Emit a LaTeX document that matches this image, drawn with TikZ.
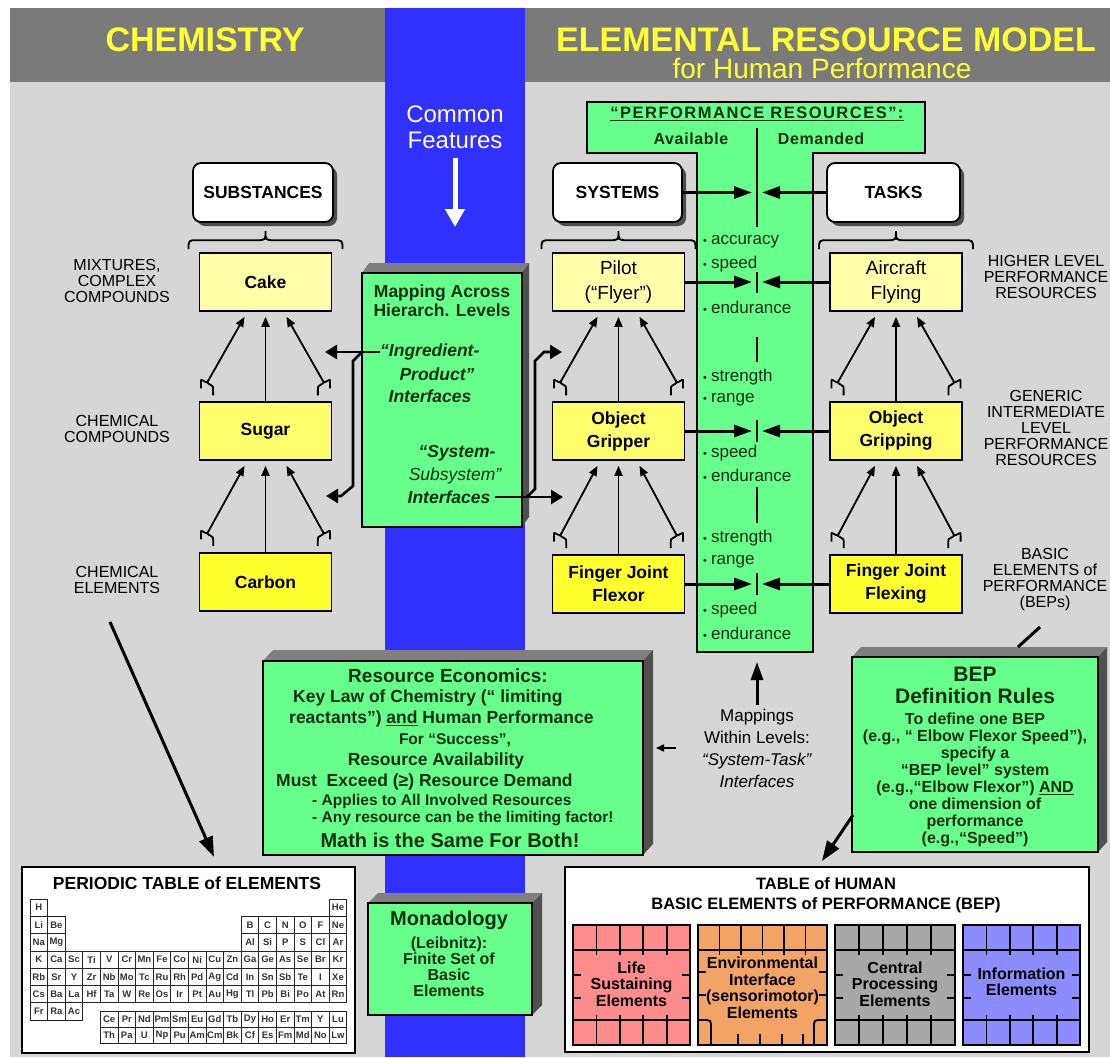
\documentclass[tikz,border=0pt]{standalone}
\usepackage{fontspec}
\setmainfont{Liberation Sans}
\newfontfamily\spacedfont[LetterSpace=9]{Liberation Sans}
\newfontfamily\midspaced[LetterSpace=4]{Liberation Sans}
\usetikzlibrary{arrows.meta,calc}

\definecolor{headgray}{HTML}{7A7A7A}
\definecolor{bodygray}{HTML}{D6D6D6}
\definecolor{colblue}{HTML}{3030FF}
\definecolor{hdyellow}{HTML}{FFFF33}
\definecolor{boxgreen}{HTML}{66FF8C}
\definecolor{txtgreen}{HTML}{103010}
\definecolor{lightyel}{HTML}{FFFFAA}
\definecolor{midyel}{HTML}{FFFF6E}
\definecolor{fullyel}{HTML}{FFFF2E}
\definecolor{topgray}{HTML}{7F7F7F}
\definecolor{sidegray}{HTML}{505050}
\definecolor{tilepink}{HTML}{FF8C8C}
\definecolor{tileorange}{HTML}{F2A466}
\definecolor{tilegray}{HTML}{A8A8A8}
\definecolor{tileblue}{HTML}{8C8CFF}

\newcommand\fsz[2]{\fontsize{#1}{#2}\selectfont}
\newcommand\bulletmark{{\fsz{11}{11}\textbullet}\hspace{4pt}}

\tikzset{
  hdboxst/.style={draw=black, line width=1.8pt, fill=white, rounded corners=8pt, inner sep=0pt, font=\bfseries\fsz{17.5}{20}},
  lvbox/.style={draw=black, line width=1.6pt, minimum width=132pt, minimum height=58pt, align=center, inner sep=1pt},
  lvbold/.style={font=\bfseries\fsz{17.5}{23}},
  lvplain/.style={font=\fsz{19}{25}},
  sidelbl/.style={align=center, font=\fsz{16}{16}},
  resitem/.style={anchor=west, inner sep=0pt, text=txtgreen, font=\fsz{17}{19}},
  gtext/.style={text=txtgreen, align=center, inner sep=0pt},
  thinarr/.style={line width=1.8pt, -{Triangle[length=10pt,width=8pt]}},
  bigarr/.style={line width=3pt, -{Triangle[length=18pt,width=12pt]}},
  medarr/.style={line width=2.6pt, -{Triangle[length=12pt,width=14pt]}},
  smallarr/.style={line width=1.6pt, -{Triangle[length=8pt,width=7pt]}},
  longarr/.style={line width=3pt, -{Triangle[length=20pt,width=14pt]}},
  divider/.style={line width=2pt},
  forkline/.style={line width=1.8pt},
  pcell/.style={draw=black!85, line width=0.8pt, fill=white, minimum width=17.6pt, minimum height=17.3pt, inner sep=0pt, font=\bfseries\fsz{9.5}{10}, text=black!80},
  lcell/.style={pcell, minimum height=15.7pt},
  tiletext/.style={align=center, font=\bfseries\fsz{16}{16.5}, inner sep=0pt},
  tileline/.style={line width=1.8pt},
}

% white rounded heading box with a dark drop shadow
\newcommand\hdbox[6]{%
  \fill[black!70, rounded corners=8pt] (#2+4,#3+4) rectangle (#4+4,#5+4);
  \node[hdboxst, minimum width={#4-#2}, minimum height={#5-#3}] (#1) at ({(#2+#4)/2},{(#3+#5)/2}) {#6};
}

% green slab with grey top and dark side
\newcommand\slab[6]{%
  \fill[topgray] (#1,#2) -- (#1+#5,#2-#6) -- (#3+#5,#2-#6) -- (#3,#2) -- cycle;
  \fill[sidegray] (#3,#2) -- (#3+#5,#2-#6) -- (#3+#5,#4-#6) -- (#3,#4) -- cycle;
  \draw[line width=1.8pt, fill=boxgreen] (#1,#2) rectangle (#3,#4);
}

% small brace at an arrow tail: bar across the arrow, hooks hanging down
\newcommand\fork[2]{%
  \coordinate (fT) at (#1);
  \coordinate (fu) at ($(fT)!1pt!(#2)-(fT)$);
  \coordinate (fv) at ($(fT)!1pt!90:(#2)-(fT)$);
  \draw[forkline] ($(fT)-3*(fu)-7*(fv)+(0,9)$) -- ($(fT)-3*(fu)-7*(fv)+(0,3)$)
    .. controls ($(fT)-3*(fu)-7*(fv)$) .. ($(fT)-3*(fu)-4*(fv)$)
    -- ($(fT)-3*(fu)-2*(fv)$) .. controls ($(fT)-3*(fu)$) .. (fT)
    .. controls ($(fT)-3*(fu)$) .. ($(fT)-3*(fu)+2*(fv)$)
    -- ($(fT)-3*(fu)+4*(fv)$) .. controls ($(fT)-3*(fu)+7*(fv)$) .. ($(fT)-3*(fu)+7*(fv)+(0,3)$)
    -- ($(fT)-3*(fu)+7*(fv)+(0,9)$);
}

% three arrows from a lower box up to the box above it
\newcommand\climb[2]{%
  \coordinate (#1-tl) at ($(#1.north)+(-57,-21)$);
  \coordinate (#1-tr) at ($(#1.north)+(57,-21)$);
  \coordinate (#2-hl) at ($(#2.south)+(-21,5)$);
  \coordinate (#2-hc) at ($(#2.south)+(0,5)$);
  \coordinate (#2-hr) at ($(#2.south)+(21,5)$);
  \draw[thinarr] (#1-tl) -- (#2-hl);
  \draw[thinarr] (#1.north) -- (#2-hc);
  \draw[thinarr] (#1-tr) -- (#2-hr);
  \fork{#1-tl}{#2-hl}
  \fork{#1-tr}{#2-hr}
}

% wide brace above the top box of a column
\newcommand\topbrace[1]{%
  \draw[forkline] ($(#1.north)+(-77,-3)$) .. controls ($(#1.north)+(-77,-12)$) .. ($(#1.north)+(-68,-12)$)
    -- ($(#1.north)+(-9,-12)$) .. controls ($(#1.north)+(0,-12)$) .. ($(#1.north)+(0,-21)$)
    .. controls ($(#1.north)+(0,-12)$) .. ($(#1.north)+(9,-12)$)
    -- ($(#1.north)+(68,-12)$) .. controls ($(#1.north)+(77,-12)$) .. ($(#1.north)+(77,-3)$);
}

% one row of the periodic table
\newcommand\prow[3]{\foreach \s [count=\i from #2] in {#3} {\node[pcell] (pe-#1-\i) at ({38.8+17.6*\i},{907.65+17.3*#1}) {\s};}}
\newcommand\lrow[3]{\foreach \s [count=\i from 4] in {#3} {\node[lcell] (#1-\i) at ({38.8+17.6*\i},#2) {\s};}}

\begin{document}
\begin{tikzpicture}[x=1pt,y=-1pt]
\useasboundingbox (0,0) rectangle (1110,1057);
\fill[white] (0,0) rectangle (1110,1057);
\fill[bodygray] (10,8) rectangle (1110,1057);
\fill[headgray] (10,8) rectangle (1110,82);
\fill[colblue] (385,8) rectangle (525,1057);

% headings
\node[font=\bfseries\fsz{34}{36}, text=hdyellow] (hchem) at (205,40) {CHEMISTRY};
\node[font=\bfseries\fsz{34}{36}, text=hdyellow] (hmodel) at (826,40) {ELEMENTAL RESOURCE MODEL};
\node[font=\fsz{28}{30}, text=hdyellow] (hsub) at (822,69) {for Human Performance};

\node[font=\fsz{24}{26}, text=white, align=center] (common) at (455,127) {Common\\Features};
\coordinate (cfend) at (455,227);
\draw[white, line width=5pt, -{Triangle[length=18pt,width=19pt]}] ($(common.south)+(0,6)$) -- (cfend);

% performance resources column
\draw[line width=1.5pt, fill=boxgreen] (587,102) -- (925,102) -- (925,153) -- (813,153) -- (813,652) -- (697,652) -- (697,153) -- (587,153) -- cycle;
\node[font=\spacedfont\bfseries\fsz{16.5}{18}, text=txtgreen] (perfres) at (757,114) {\underline{“PERFORMANCE RESOURCES”:}};
\node[font=\midspaced\bfseries\fsz{16}{18}, text=txtgreen] (avail) at (691,139) {Available};
\node[font=\midspaced\bfseries\fsz{16}{18}, text=txtgreen] (demand) at (821,139) {Demanded};

\node[resitem] (ra1) at (703,242) {\bulletmark accuracy};
\node[resitem] (ra2) at (703,264) {\bulletmark speed};
\node[resitem] (ra3) at (703,307) {\bulletmark endurance};
\node[resitem] (rb1) at (703,377) {\bulletmark strength};
\node[resitem] (rb2) at (703,400) {\bulletmark range};
\node[resitem] (rb3) at (703,453) {\bulletmark speed};
\node[resitem] (rb4) at (703,475) {\bulletmark endurance};
\node[resitem] (rc1) at (703,538) {\bulletmark strength};
\node[resitem] (rc2) at (703,562) {\bulletmark range};
\node[resitem] (rc3) at (703,610) {\bulletmark speed};
\node[resitem] (rc4) at (703,633) {\bulletmark endurance};

\draw[divider] (757,128) -- (757,227);
\draw[divider] (757,272) -- (757,293);
\draw[divider] (757,337) -- (757,362);
\draw[divider] (757,420) -- (757,442);
\draw[divider] (757,487) -- (757,523);
\draw[divider] (757,573) -- (757,595);

% mapping slab
\slab{362}{273}{522}{527}{7}{10}
\node[gtext, font=\bfseries\fsz{17.5}{19}] (map1) at (442,301) {Mapping Across\\Hierarch. Levels};
\node[gtext, font=\bfseries\itshape\fsz{17.5}{20}, anchor=west] (ingr) at (380,352) {“Ingredient-};
\node[gtext, font=\bfseries\itshape\fsz{17.5}{20}] (prod) at (437,374) {Product”};
\node[gtext, font=\bfseries\itshape\fsz{17.5}{20}] (ingint) at (430,396) {Interfaces};
\node[gtext, font=\bfseries\itshape\fsz{17.5}{20}] (sys1) at (457,453) {“System-};
\node[gtext, font=\itshape\fsz{17.5}{20}] (sys2) at (455,476) {Subsystem”};
\node[gtext, font=\bfseries\itshape\fsz{17.5}{20}] (ssint) at (449,497) {Interfaces};

% heading boxes
\hdbox{subst}{193}{163}{333}{222}{SUBSTANCES}
\hdbox{systems}{553}{163}{682}{222}{SYSTEMS}
\hdbox{tasks}{827}{163}{960}{222}{TASKS}

% level boxes
\node[lvbox, lvbold, fill=lightyel] (cake) at (265.5,282) {Cake};
\node[lvbox, lvbold, fill=midyel] (sugar) at (265.5,431) {Sugar};
\node[lvbox, lvbold, fill=fullyel] (carbon) at (265.5,582) {Carbon};
\node[lvbox, lvplain, fill=lightyel] (pilot) at (618.5,282) {Pilot\\(“Flyer”)};
\node[lvbox, lvbold, fill=midyel] (grip) at (618.5,431) {Object\\Gripper};
\node[lvbox, lvbold, fill=fullyel] (flexor) at (618.5,584) {Finger Joint\\Flexor};
\node[lvbox, lvplain, fill=lightyel] (aircraft) at (896,282) {Aircraft\\Flying};
\node[lvbox, lvbold, fill=midyel] (gripping) at (896,431) {Object\\Gripping};
\node[lvbox, lvbold, fill=fullyel] (flexing) at (896,584) {Finger Joint\\Flexing};

\topbrace{cake}
\topbrace{pilot}
\topbrace{aircraft}

\climb{sugar}{cake}
\climb{carbon}{sugar}
\climb{grip}{pilot}
\climb{flexor}{grip}
\climb{gripping}{aircraft}
\climb{flexing}{gripping}

% system-task arrows into the resource column
\coordinate (dvL) at (752,0);
\coordinate (dvR) at (762,0);
\draw[bigarr] (systems.east) -- (systems.east -| dvL);
\draw[bigarr] (tasks.west) -- (tasks.west -| dvR);
\draw[bigarr] (pilot.east) -- (pilot.east -| dvL);
\draw[bigarr] (aircraft.west) -- (aircraft.west -| dvR);
\draw[bigarr] (grip.east) -- (grip.east -| dvL);
\draw[bigarr] (gripping.west) -- (gripping.west -| dvR);
\draw[bigarr] (flexor.east) -- (flexor.east -| dvL);
\draw[bigarr] (flexing.west) -- (flexing.west -| dvR);

% side labels
\node[sidelbl] (lblmix) at (117,281) {MIXTURES,\\COMPLEX\\COMPOUNDS};
\node[sidelbl] (lblcomp) at (117,429) {CHEMICAL\\COMPOUNDS};
\node[sidelbl] (lblelem) at (117,580) {CHEMICAL\\ELEMENTS};
\node[sidelbl] (lblhigh) at (1046,277) {HIGHER LEVEL\\PERFORMANCE\\RESOURCES};
\node[sidelbl] (lblgen) at (1046,428) {GENERIC\\INTERMEDIATE\\LEVEL\\PERFORMANCE\\RESOURCES};
\node[sidelbl] (lblbep) at (1045,580) {BASIC\\ELEMENTS of\\PERFORMANCE\\(BEPs)};

% mapping connectors
\coordinate (mapL1) at (325,352);
\coordinate (mapL2) at (326,496);
\draw[medarr] (ingr.west) -- (mapL1);
\draw[medarr] ($(ingr.west)+(-18,0)$) -- (353,361) -- (353,486) -- (341,496) -- (mapL2);
\coordinate (mapR1) at (563,497);
\coordinate (mapR2) at (562,352);
\draw[medarr] ($(ssint.east)+(4,0)$) -- (mapR1);
\draw[medarr] (527,497) -- (535,489) -- (535,361) -- (544,352) -- (mapR2);

% resource economics slab
\slab{263}{661}{643}{855}{10}{11}
\node[gtext, font=\bfseries\fsz{19}{21}] (re1) at (448,676) {Resource Economics:};
\node[gtext, font=\bfseries\fsz{17.5}{20}, anchor=west] (re2) at (293,698) {Key Law of Chemistry (“ limiting};
\node[gtext, font=\bfseries\fsz{17.5}{20}, anchor=west] (re3) at (289,719) {reactants”) \underline{and} Human Performance};
\node[gtext, font=\bfseries\fsz{15.5}{18}] (re4) at (455,740) {For “Success”,};
\node[gtext, font=\bfseries\fsz{17.5}{20}] (re5) at (436,761) {Resource Availability};
\node[gtext, font=\bfseries\fsz{17.5}{20}, anchor=west] (re6) at (276,782) {Must\ \ Exceed (≥) Resource Demand};
\node[gtext, font=\bfseries\fsz{15.5}{18}, anchor=west] (re7) at (312,801) {- Applies to All Involved Resources};
\node[gtext, font=\bfseries\fsz{15.5}{18}, anchor=west] (re8) at (312,819) {- Any resource can be the limiting factor!};
\node[gtext, font=\bfseries\fsz{20}{22}] (re9) at (450,840) {Math is the Same For Both!};

% within-level mappings
\node[font=\fsz{17}{22}, align=center, inner sep=0pt] (mapw) at (757,748) {Mappings\\Within Levels:\\\textit{“System-Task”}\\\textit{Interfaces}};
\coordinate (colbot) at (757,662);
\draw[bigarr] ($(mapw.north)+(0,-4)$) -- (colbot);
\coordinate (mwl) at (676,748);
\coordinate (reR) at (656,748);
\draw[smallarr] (mwl) -- (reR);

% BEP definition slab
\slab{852}{657}{1098}{852}{9}{10}
\node[gtext, font=\bfseries\fsz{21}{23}] (bep1) at (975,674) {BEP};
\node[gtext, font=\bfseries\fsz{21}{23}] (bep2) at (975,696) {Definition Rules};
\node[gtext, font=\bfseries\fsz{16}{17}] (bep3) at (975,780) {To define one BEP\\(e.g., “ Elbow Flexor Speed”),\\specify a\\“BEP level” system\\(e.g.,“Elbow Flexor”) \underline{AND}\\one dimension of\\performance\\(e.g.,“Speed”)};
\coordinate (bepsfoot) at (1040,627);
\coordinate (beptop) at (1018,647);
\draw[line width=3pt] (bepsfoot) -- (beptop);

% monadology slab
\slab{368}{903}{532}{1015}{10}{10}
\node[gtext, font=\bfseries\fsz{20}{22}] (mon1) at (449,920) {Monadology};
\node[gtext, font=\bfseries\fsz{16}{16}] (mon2) at (449,967) {(Leibnitz):\\Finite Set of\\Basic\\Elements};

% periodic table
\node[draw, line width=2.5pt, fill=white, minimum width=333pt, minimum height=186pt, inner sep=0pt] (ptable) at (188.5,960) {};
\node[font=\bfseries\fsz{17.5}{19}] (pttitle) at (187,883) {PERIODIC TABLE of ELEMENTS};
\prow{0}{0}{H}
\prow{0}{17}{He}
\prow{1}{0}{Li,Be}
\prow{1}{12}{B,C,N,O,F,Ne}
\prow{2}{0}{Na,Mg}
\prow{2}{12}{Al,Si,P,S,Cl,Ar}
\prow{3}{0}{K,Ca,Sc,Ti,V,Cr,Mn,Fe,Co,Ni,Cu,Zn,Ga,Ge,As,Se,Br,Kr}
\prow{4}{0}{Rb,Sr,Y,Zr,Nb,Mo,Tc,Ru,Rh,Pd,Ag,Cd,In,Sn,Sb,Te,I,Xe}
\prow{5}{0}{Cs,Ba,La,Hf,Ta,W,Re,Os,Ir,Pt,Au,Hg,Tl,Pb,Bi,Po,At,Rn}
\prow{6}{0}{Fr,Ra,Ac}
\lrow{lan}{1019.5}{Ce,Pr,Nd,Pm,Sm,Eu,Gd,Tb,Dy,Ho,Er,Tm,Y,Lu}
\lrow{act}{1035.5}{Th,Pa,U,Np,Pu,Am,Cm,Bk,Cf,Es,Fm,Md,No,Lw}

\coordinate (chemtail) at (110,622);
\draw[longarr] (chemtail) -- ($(ptable.north)+(25.5,-9)$);

% table of human BEPs
\node[draw, line width=2pt, fill=white, minimum width=524pt, minimum height=185pt, inner sep=0pt] (hum) at (827,959.5) {};
\node[font=\bfseries\fsz{16.5}{20}, align=center] (bephead) at (826,895) {TABLE of HUMAN\\BASIC ELEMENTS of PERFORMANCE (BEP)};
\coordinate (bepfoot) at (853,815);
\draw[longarr] (bepfoot) -- ($(hum.north)+(-5,-5)$);

% life sustaining tile
\draw[line width=2.2pt, fill=tilepink] (573,925) rectangle (690,1045);
\draw[tileline] (573,950) -- (690,950) (573,1020) -- (690,1020);
\foreach \k in {1,2,3,4} {\draw[tileline] ({573+23.4*\k},925) -- ++(0,30); \draw[tileline] ({573+23.4*\k},1045) -- ++(0,-30);}
\foreach \yy in {975,998} {\draw[tileline] (573,\yy) -- ++(8,0); \draw[tileline] (690,\yy) -- ++(-8,0);}
\node[tiletext] (tlife) at (631.5,984) {Life\\Sustaining\\Elements};

% environmental interface tile
\draw[line width=2.2pt, fill=tileorange] (698,925) rectangle (827,1045);
\draw[tileline] (698,950) -- (827,950);
\foreach \k in {1,2,3,4,5} {\draw[tileline] ({698+21.5*\k},925) -- ++(0,30);}
\draw[tileline] (698,1020) -- (703,1020) .. controls (711,1020) .. (711,1028) -- (711,1045);
\draw[tileline] (827,1020) -- (822,1020) .. controls (814,1020) .. (814,1028) -- (814,1045);
\foreach \xx in {738,760,782,803} {\draw[tileline] (\xx,1045) -- ++(0,-11);}
\foreach \yy in {972,995} {\draw[tileline] (698,\yy) -- ++(8,0); \draw[tileline] (827,\yy) -- ++(-8,0);}
\node[tiletext] (tenv) at (762.5,988) {Environmental\\Interface\\(sensorimotor)\\Elements};

% central processing tile
\draw[line width=2.2pt, fill=tilegray] (835,925) rectangle (955,1045);
\draw[tileline] (835,950) -- (955,950) (835,1020) -- (955,1020);
\foreach \k in {1,2,3,4} {\draw[tileline] ({835+24*\k},925) -- ++(0,30); \draw[tileline] ({835+24*\k},1045) -- ++(0,-30);}
\foreach \yy in {975,998} {\draw[tileline] (835,\yy) -- ++(8,0); \draw[tileline] (955,\yy) -- ++(-8,0);}
\node[tiletext] (tcpu) at (895,984) {Central\\Processing\\Elements};

% information tile
\draw[line width=2.2pt, fill=tileblue] (963,925) rectangle (1080,1045);
\draw[tileline] (963,950) -- (1080,950) (963,1020) -- (1080,1020);
\foreach \k in {1,2,3,4} {\draw[tileline] ({963+23.4*\k},925) -- ++(0,30); \draw[tileline] ({963+23.4*\k},1045) -- ++(0,-30);}
\foreach \yy in {975,998} {\draw[tileline] (963,\yy) -- ++(8,0); \draw[tileline] (1080,\yy) -- ++(-8,0);}
\node[tiletext] (tinfo) at (1021.5,982) {Information\\Elements};
\end{tikzpicture}
\end{document}
